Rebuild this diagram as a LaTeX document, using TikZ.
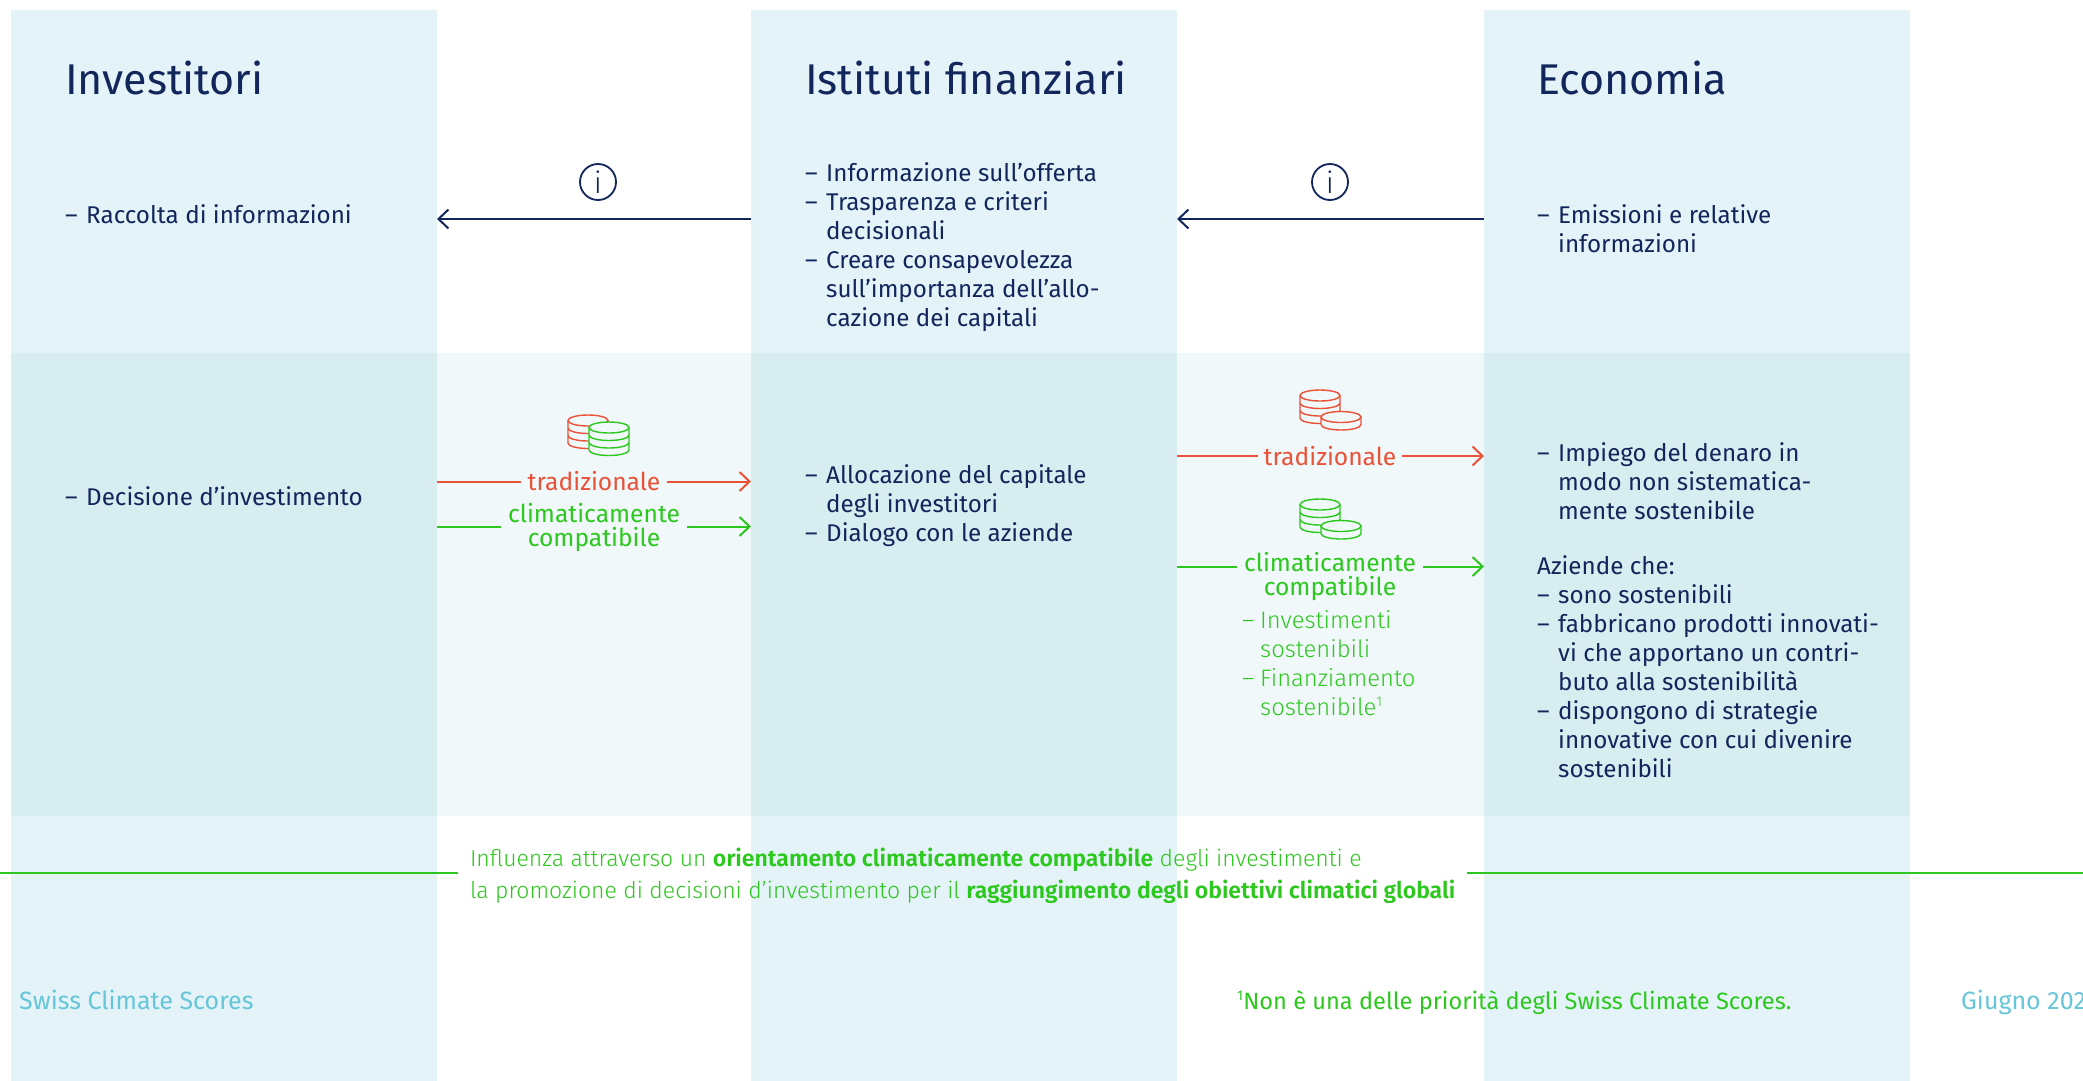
\documentclass[tikz,border=0pt]{standalone}
\usepackage{fontspec}
\usetikzlibrary{arrows.meta}
\setmainfont{Fira Sans}[BoldFont={Fira Sans SemiBold}]
\newfontfamily\lightf{Fira Sans Light}[BoldFont={Fira Sans SemiBold}]
\definecolor{navy}{HTML}{12265C}
\definecolor{redc}{HTML}{EA5238}
\definecolor{greenc}{HTML}{2CC81E}
\definecolor{cyant}{HTML}{66C5D9}
\definecolor{colbg}{HTML}{E3F3F7}
\definecolor{bandbg}{HTML}{F0F8FA}
\definecolor{bandcol}{HTML}{D8EDF0}
\newcommand\bodyfont{\rmfamily\fontsize{24.2}{29}\selectfont}
\newcommand\dashb{\makebox[21pt][l]{–}}
\newcommand\hangb{\hspace*{21pt}}
\newcommand\coinstack[4]{%
 \begin{scope}[shift={(#1,#2)}]
  \draw[line width=1.4pt,draw=#4,fill=bandbg] (-20,0) -- (-20,#3*7.5) arc (180:360:20pt and 5.5pt) -- (20,0);
  \foreach \k in {1,...,#3}{\ifnum\k<#3\relax\draw[line width=1.4pt,draw=#4] (-20,\k*7.5) arc (180:360:20pt and 5.5pt);\fi}
  \draw[line width=1.4pt,draw=#4,fill=bandbg] (0,0) ellipse (20pt and 5.5pt);
 \end{scope}}
\tikzset{
 x=1pt,y=-1pt,
 panel/.style={anchor=north west,inner sep=0,outer sep=0,draw=none},
 title/.style={anchor=base west,inner sep=0,text=navy,font=\rmfamily\fontsize{43}{48}\selectfont},
 block/.style={anchor=north west,inner sep=0,align=left,text=navy,font=\bodyfont,execute at begin node={\rule{0pt}{20pt}}},
 lab/.style={inner sep=0,outer sep=0,align=center,font=\rmfamily\fontsize{24.6}{24}\selectfont},
 flow/.style={line width=2pt,draw=#1},
 flowa/.style={line width=2pt,draw=#1,-{Straight Barb[length=10pt,width=19pt,line width=2pt]}},
 infoc/.style={circle,draw=navy,line width=1.8pt,minimum size=36pt,inner sep=0,text=navy,font=\lightf\fontsize{30}{30}\selectfont},
 foot/.style={anchor=base west,inner sep=0},
}
\begin{document}
\begin{tikzpicture}
\useasboundingbox (0,0) rectangle (2083,1080);
\clip (0,0) rectangle (2083,1080);
\fill[white] (0,0) rectangle (2083,1080);
% columns
\node[panel,fill=colbg,minimum width=426pt,minimum height=1072pt] (colA) at (11,10) {};
\node[panel,fill=colbg,minimum width=426pt,minimum height=1072pt] (colB) at (751,10) {};
\node[panel,fill=colbg,minimum width=426pt,minimum height=1072pt] (colC) at (1484,10) {};
\node[panel,fill=bandbg,minimum width=1899pt,minimum height=463pt] (band) at (11,353) {};
\node[panel,fill=bandcol,minimum width=426pt,minimum height=463pt] (bandA) at (11,353) {};
\node[panel,fill=bandcol,minimum width=426pt,minimum height=463pt] (bandB) at (751,353) {};
\node[panel,fill=bandcol,minimum width=426pt,minimum height=463pt] (bandC) at (1484,353) {};
% titles
\node[title] (t1) at (65,94) {Investitori};
\node[title] (t2) at (805,94) {Istituti finanziari};
\node[title] (t3) at (1537,94) {Economia};
% blocks
\node[block] (b1) at (65,203) {\dashb Raccolta di informazioni};
\node[block] (b2) at (805,162.5) {\dashb Informazione sull’offerta\\\dashb Trasparenza e criteri\\\hangb decisionali\\\dashb Creare consapevolezza\\\hangb sull’importanza dell’allo-\\\hangb cazione dei capitali};
\node[block] (b3) at (1537,204) {\dashb Emissioni e relative\\\hangb informazioni};
\node[block] (b4) at (65,485) {\dashb Decisione d’investimento};
\node[block] (b5) at (805,464) {\dashb Allocazione del capitale\\\hangb degli investitori\\\dashb Dialogo con le aziende};
\node[block] (b6) at (1537,442) {\dashb Impiego del denaro in\\\hangb modo non sistematica-\\\hangb mente sostenibile};
\node[block] (b7) at (1537,555) {Aziende che:\\\dashb sono sostenibili\\\dashb fabbricano prodotti innovati-\\\hangb vi che apportano un contri-\\\hangb buto alla sostenibilità\\\dashb dispongono di strategie\\\hangb innovative con cui divenire\\\hangb sostenibili};
\node[block,text=greenc,font=\lightf\fontsize{23.8}{29}\selectfont] (b8) at (1242,610.5) {\makebox[18pt][l]{–}Investimenti\\\hspace*{18pt}sostenibili\\\makebox[18pt][l]{–}Finanziamento\\\hspace*{18pt}sostenibile\raisebox{9pt}{\fontsize{14}{14}\selectfont 1}};
% info arrows
\coordinate (aR) at (437,219);
\coordinate (bL) at (751,219);
\coordinate (bR) at (1177,219);
\coordinate (cL) at (1484,219);
\draw[flowa=navy] (bL) -- (aR);
\draw[flowa=navy] (cL) -- (bR);
\node[infoc] (i1) at (598,182) {i};
\node[infoc] (i2) at (1330,182) {i};
% left flows
\coordinate (la1) at (437,481.5); \coordinate (la2) at (751,481.5);
\coordinate (lb1) at (437,526.5); \coordinate (lb2) at (751,526.5);
\node[lab,text=redc,minimum width=146pt] (trL) at (594,481.5) {tradizionale};
\node[lab,text=greenc,minimum width=186pt] (clL) at (594,528) {climaticamente\\compatibile};
\draw[flow=redc] (la1) -- (trL.west);
\draw[flowa=redc] (trL.east) -- (la2);
\draw[flow=greenc] (lb1) -- (lb1-|clL.west);
\draw[flowa=greenc] (lb1-|clL.east) -- (lb2);
% right flows
\coordinate (ra1) at (1177,456); \coordinate (ra2) at (1484,456);
\coordinate (rb1) at (1177,566.5); \coordinate (rb2) at (1484,566.5);
\node[lab,text=redc,minimum width=144pt] (trR) at (1330,456) {tradizionale};
\node[lab,text=greenc,minimum width=186pt] (clR) at (1330,576.5) {climaticamente\\compatibile};
\draw[flow=redc] (ra1) -- (trR.west);
\draw[flowa=redc] (trR.east) -- (ra2);
\draw[flow=greenc] (rb1) -- (rb1-|clR.west);
\draw[flowa=greenc] (rb1-|clR.east) -- (rb2);
% coins
\coinstack{588}{420.5}{3}{redc}
\coinstack{609}{427.5}{3}{greenc}
\coinstack{1320}{395.5}{3}{redc}
\coinstack{1341}{417}{1}{redc}
\coinstack{1320}{504.5}{3}{greenc}
\coinstack{1341}{526}{1}{greenc}
% bottom statement
\coordinate (gL) at (0,873);
\coordinate (gR) at (2083,873);
\node[anchor=west,inner sep=0,outer sep=12pt,align=left,text=greenc,font=\lightf\fontsize{23}{32}\selectfont] (stmt) at (458,876) {Influenza attraverso un \textbf{orientamento climaticamente compatibile} degli investimenti e\\la promozione di decisioni d’investimento per il \textbf{raggiungimento degli obiettivi climatici globali}};
\draw[flow=greenc] (gL) -- (gL-|stmt.west);
\draw[flow=greenc] (gR-|stmt.east) -- (gR);
% footer
\node[foot,text=cyant,font=\rmfamily\fontsize{25}{28}\selectfont] (f1) at (19,1009) {Swiss Climate Scores};
\node[foot,text=greenc,font=\rmfamily\fontsize{23.6}{28}\selectfont] (f2) at (1237,1009) {\raisebox{9pt}{\fontsize{14}{14}\selectfont 1}Non è una delle priorità degli Swiss Climate Scores.};
\node[foot,text=cyant,font=\rmfamily\fontsize{25}{28}\selectfont] (f3) at (1961,1009) {Giugno 202};
\end{tikzpicture}
\end{document}
